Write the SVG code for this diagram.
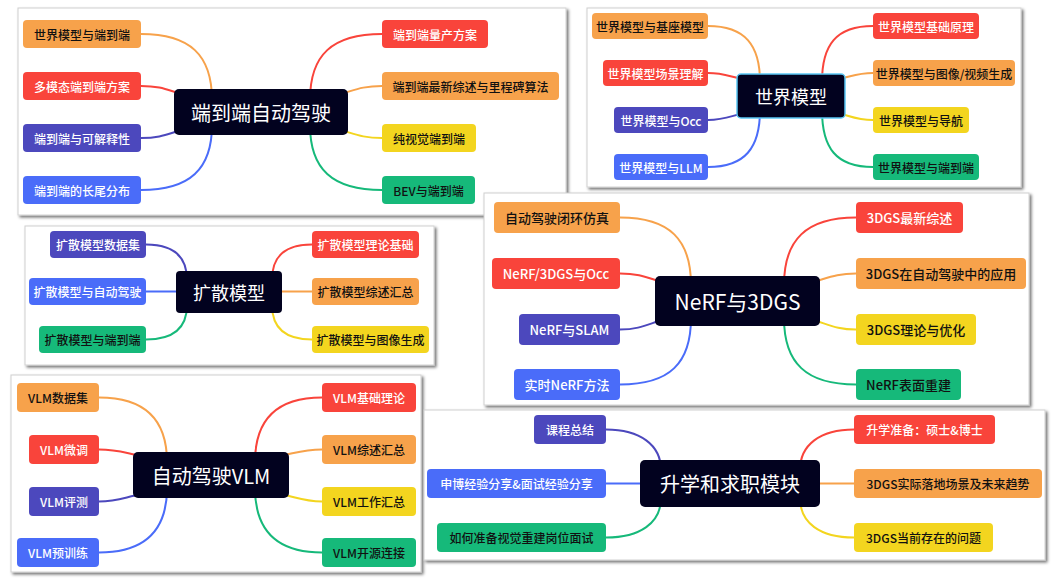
<svg xmlns="http://www.w3.org/2000/svg" width="1058" height="581" viewBox="0 0 1058 581">
<defs>
<filter id="sh" x="-5%" y="-5%" width="110%" height="115%">
<feDropShadow dx="2" dy="2" stdDeviation="1.6" flood-color="#000" flood-opacity="0.55"/>
</filter>
</defs>
<style>
text{font-family:"Noto Sans CJK SC","Noto Sans",sans-serif;text-anchor:middle;dominant-baseline:central;font-size:12px;font-weight:500}
.panel{fill:#fff;stroke:#d0d0d0;stroke-width:1;filter:url(#sh)}
.ctr{fill:#02021f}
.ct{fill:#fff;font-size:20px;font-weight:400}
.o{fill:#F7A24B}.r{fill:#F9443B}.i{fill:#4C48BD}.b{fill:#4A6CF9}.y{fill:#F3D51F}.g{fill:#16B97A}
.tw{fill:#fff}.tk{fill:#111}
.c{fill:none;stroke-width:2}
.co{stroke:#F7A24B}.cr{stroke:#F9443B}.ci{stroke:#4C48BD}.cb{stroke:#4A6CF9}.cy{stroke:#F3D51F}.cg{stroke:#16B97A}
.p4 text{font-size:13px}
</style>

<!-- Panel 1 -->
<g id="panel1">
<rect class="panel" x="18" y="8" width="548" height="207"/>
<g id="connectors1">
<path class="c co" d="M141,34 C190,34 212,55 212,100"/>
<path class="c cr" d="M141,86 C165,86 170,92 190,96"/>
<path class="c ci" d="M141,138 C165,138 170,132 190,128"/>
<path class="c cb" d="M141,190 C190,190 212,169 212,125"/>
<path class="c cr" d="M382,34 C332,34 310,55 310,100"/>
<path class="c co" d="M382,86 C358,86 352,92 332,96"/>
<path class="c cy" d="M382,138 C358,138 352,132 332,128"/>
<path class="c cg" d="M382,190 C332,190 310,169 310,125"/>
</g>
<g id="n1-center"><rect class="ctr" x="174" y="89" width="174" height="46" rx="5"/><text class="ct" x="261" y="112">端到端自动驾驶</text></g>
<g id="n1-l1"><rect class="o" x="23" y="20" width="118" height="28" rx="4"/><text class="tk" x="82" y="34">世界模型与端到端</text></g>
<g id="n1-l2"><rect class="r" x="23" y="72" width="118" height="28" rx="4"/><text class="tw" x="82" y="86">多模态端到端方案</text></g>
<g id="n1-l3"><rect class="i" x="23" y="124" width="118" height="28" rx="4"/><text class="tw" x="82" y="138">端到端与可解释性</text></g>
<g id="n1-l4"><rect class="b" x="23" y="176" width="118" height="28" rx="4"/><text class="tw" x="82" y="190">端到端的长尾分布</text></g>
<g id="n1-r1"><rect class="r" x="382" y="20" width="106" height="28" rx="4"/><text class="tw" x="435" y="34">端到端量产方案</text></g>
<g id="n1-r2"><rect class="o" x="382" y="72" width="177" height="28" rx="4"/><text class="tk" x="470.5" y="86">端到端最新综述与里程碑算法</text></g>
<g id="n1-r3"><rect class="y" x="382" y="124" width="94" height="28" rx="4"/><text class="tk" x="429" y="138">纯视觉端到端</text></g>
<g id="n1-r4"><rect class="g" x="382" y="176" width="93" height="28" rx="4"/><text class="tk" x="428.5" y="190">BEV与端到端</text></g>
</g>

<!-- Panel 2 -->
<g id="panel2">
<rect class="panel" x="587" y="8" width="434" height="179"/>
<g id="connectors2">
<path class="c co" d="M708,26 C745,26 760,45 760,82"/>
<path class="c cr" d="M708,73 C725,73 730,77 748,80"/>
<path class="c ci" d="M708,120 C725,120 730,116 748,112"/>
<path class="c cb" d="M708,167 C745,167 760,148 760,110"/>
<path class="c cr" d="M873,26 C836,26 822,45 822,82"/>
<path class="c co" d="M873,73 C856,73 851,77 834,80"/>
<path class="c cy" d="M873,120 C856,120 851,116 834,112"/>
<path class="c cg" d="M873,167 C836,167 822,148 822,110"/>
</g>
<g id="n2-center"><rect class="ctr" x="737" y="74" width="108" height="44" rx="4" stroke="#5BC8F5" stroke-width="1.5"/><text class="ct" x="791" y="96" style="font-size:18px">世界模型</text></g>
<g id="n2-l1"><rect class="o" x="592" y="13" width="116" height="26" rx="4"/><text class="tk" x="650" y="26">世界模型与基座模型</text></g>
<g id="n2-l2"><rect class="r" x="603" y="60" width="105" height="26" rx="4"/><text class="tw" x="655.5" y="73">世界模型场景理解</text></g>
<g id="n2-l3"><rect class="i" x="614" y="107" width="94" height="26" rx="4"/><text class="tw" x="661" y="120">世界模型与Occ</text></g>
<g id="n2-l4"><rect class="b" x="614" y="154" width="94" height="26" rx="4"/><text class="tw" x="661" y="167">世界模型与LLM</text></g>
<g id="n2-r1"><rect class="r" x="873" y="13" width="106" height="26" rx="4"/><text class="tw" x="926" y="26">世界模型基础原理</text></g>
<g id="n2-r2"><rect class="o" x="873" y="60" width="142" height="26" rx="4"/><text class="tk" x="944" y="73">世界模型与图像/视频生成</text></g>
<g id="n2-r3"><rect class="y" x="873" y="107" width="96" height="26" rx="4"/><text class="tk" x="921" y="120">世界模型与导航</text></g>
<g id="n2-r4"><rect class="g" x="873" y="154" width="106" height="26" rx="4"/><text class="tk" x="926" y="167">世界模型与端到端</text></g>
</g>

<!-- Panel 3 -->
<g id="panel3">
<rect class="panel" x="25" y="226" width="409" height="139"/>
<g id="connectors3">
<path class="c ci" d="M146,244.5 C172,244.5 187,255 187,280"/>
<path class="c cb" d="M146,291.5 L180,291.5"/>
<path class="c cg" d="M146,339.5 C172,339.5 187,329 187,305"/>
<path class="c cr" d="M312,244.5 C286,244.5 272,255 272,280"/>
<path class="c co" d="M312,291.5 L278,291.5"/>
<path class="c cy" d="M312,339.5 C286,339.5 272,329 272,305"/>
</g>
<g id="n3-center"><rect class="ctr" x="176" y="271" width="106" height="42" rx="4"/><text class="ct" x="229" y="292" style="font-size:18px">扩散模型</text></g>
<g id="n3-l1"><rect class="i" x="50" y="231" width="96" height="27" rx="4"/><text class="tw" x="98" y="244.5">扩散模型数据集</text></g>
<g id="n3-l2"><rect class="b" x="29" y="278" width="117" height="27" rx="4"/><text class="tw" x="87.5" y="291.5">扩散模型与自动驾驶</text></g>
<g id="n3-l3"><rect class="g" x="39" y="326" width="107" height="27" rx="4"/><text class="tk" x="92.5" y="339.5">扩散模型与端到端</text></g>
<g id="n3-r1"><rect class="r" x="312" y="231" width="107" height="27" rx="4"/><text class="tw" x="365.5" y="244.5">扩散模型理论基础</text></g>
<g id="n3-r2"><rect class="o" x="312" y="278" width="107" height="27" rx="4"/><text class="tk" x="365.5" y="291.5">扩散模型综述汇总</text></g>
<g id="n3-r3"><rect class="y" x="312" y="326" width="117" height="27" rx="4"/><text class="tk" x="370.5" y="339.5">扩散模型与图像生成</text></g>
</g>

<!-- Panel 4 -->
<g id="panel4" class="p4">
<rect class="panel" x="484" y="193" width="545" height="212"/>
<g id="connectors4">
<path class="c co" d="M620,217.5 C670,217.5 691,240 691,285"/>
<path class="c cr" d="M620,273.5 C640,273.5 648,278 665,283"/>
<path class="c ci" d="M620,329.5 C640,329.5 648,324 665,319"/>
<path class="c cb" d="M620,384.5 C670,384.5 691,363 691,318"/>
<path class="c cr" d="M856,217.5 C806,217.5 784,240 784,285"/>
<path class="c co" d="M856,273.5 C836,273.5 828,278 810,283"/>
<path class="c cy" d="M856,329.5 C836,329.5 828,324 810,319"/>
<path class="c cg" d="M856,384.5 C806,384.5 784,363 784,318"/>
</g>
<g id="n4-center"><rect class="ctr" x="655" y="276" width="165" height="50" rx="5"/><text class="ct" x="737.5" y="301" style="font-size:21px">NeRF与3DGS</text></g>
<g id="n4-l1"><rect class="o" x="494" y="202" width="126" height="31" rx="4"/><text class="tk" x="557" y="217.5">自动驾驶闭环仿真</text></g>
<g id="n4-l2"><rect class="r" x="492" y="258" width="128" height="31" rx="4"/><text class="tw" x="556" y="273.5">NeRF/3DGS与Occ</text></g>
<g id="n4-l3"><rect class="i" x="519" y="314" width="101" height="31" rx="4"/><text class="tw" x="569.5" y="329.5">NeRF与SLAM</text></g>
<g id="n4-l4"><rect class="b" x="514" y="369" width="106" height="31" rx="4"/><text class="tw" x="567" y="384.5">实时NeRF方法</text></g>
<g id="n4-r1"><rect class="r" x="856" y="202" width="107" height="31" rx="4"/><text class="tw" x="909.5" y="217.5">3DGS最新综述</text></g>
<g id="n4-r2"><rect class="o" x="856" y="258" width="170" height="31" rx="4"/><text class="tk" x="941" y="273.5">3DGS在自动驾驶中的应用</text></g>
<g id="n4-r3"><rect class="y" x="856" y="314" width="120" height="31" rx="4"/><text class="tk" x="916" y="329.5">3DGS理论与优化</text></g>
<g id="n4-r4"><rect class="g" x="856" y="369" width="105" height="31" rx="4"/><text class="tk" x="908.5" y="384.5">NeRF表面重建</text></g>
</g>

<!-- Panel 5 -->
<g id="panel5">
<rect class="panel" x="11" y="375" width="410" height="197"/>
<g id="connectors5">
<path class="c co" d="M99,397.5 C145,397.5 167,420 167,462"/>
<path class="c cr" d="M99,449.5 C118,449.5 125,453 142,456"/>
<path class="c ci" d="M99,501.5 C118,501.5 125,497 142,494"/>
<path class="c cb" d="M99,552.5 C145,552.5 167,530 167,488"/>
<path class="c cr" d="M322,397.5 C277,397.5 255,420 255,462"/>
<path class="c co" d="M322,449.5 C303,449.5 296,453 280,456"/>
<path class="c cy" d="M322,501.5 C303,501.5 296,497 280,494"/>
<path class="c cg" d="M322,552.5 C277,552.5 255,530 255,488"/>
</g>
<g id="n5-center"><rect class="ctr" x="133" y="452" width="156" height="46" rx="5"/><text class="ct" x="211" y="475">自动驾驶VLM</text></g>
<g id="n5-l1"><rect class="o" x="17" y="383" width="82" height="29" rx="4"/><text class="tk" x="58" y="397.5">VLM数据集</text></g>
<g id="n5-l2"><rect class="r" x="29" y="435" width="70" height="29" rx="4"/><text class="tw" x="64" y="449.5">VLM微调</text></g>
<g id="n5-l3"><rect class="i" x="29" y="487" width="70" height="29" rx="4"/><text class="tw" x="64" y="501.5">VLM评测</text></g>
<g id="n5-l4"><rect class="b" x="17" y="538" width="82" height="29" rx="4"/><text class="tw" x="58" y="552.5">VLM预训练</text></g>
<g id="n5-r1"><rect class="r" x="322" y="383" width="94" height="29" rx="4"/><text class="tw" x="369" y="397.5">VLM基础理论</text></g>
<g id="n5-r2"><rect class="o" x="322" y="435" width="94" height="29" rx="4"/><text class="tk" x="369" y="449.5">VLM综述汇总</text></g>
<g id="n5-r3"><rect class="y" x="322" y="487" width="94" height="29" rx="4"/><text class="tk" x="369" y="501.5">VLM工作汇总</text></g>
<g id="n5-r4"><rect class="g" x="322" y="538" width="94" height="29" rx="4"/><text class="tk" x="369" y="552.5">VLM开源连接</text></g>
</g>

<!-- Panel 6 -->
<g id="panel6">
<rect class="panel" x="424" y="410" width="621" height="150"/>
<g id="connectors6">
<path class="c ci" d="M606,429.5 C640,429.5 661,445 661,470"/>
<path class="c cb" d="M606,483.5 L645,483.5"/>
<path class="c cg" d="M606,537.5 C640,537.5 661,523 661,498"/>
<path class="c cr" d="M854,429.5 C820,429.5 800,445 800,470"/>
<path class="c co" d="M854,483.5 L815,483.5"/>
<path class="c cy" d="M854,537.5 C820,537.5 800,523 800,498"/>
</g>
<g id="n6-center"><rect class="ctr" x="640" y="460" width="180" height="47" rx="5"/><text class="ct" x="730" y="483.5">升学和求职模块</text></g>
<g id="n6-l1"><rect class="i" x="534" y="415" width="72" height="29" rx="4"/><text class="tw" x="570" y="429.5">课程总结</text></g>
<g id="n6-l2"><rect class="b" x="427" y="469" width="179" height="29" rx="4"/><text class="tw" x="516.5" y="483.5">申博经验分享&amp;面试经验分享</text></g>
<g id="n6-l3"><rect class="g" x="437" y="523" width="169" height="29" rx="4"/><text class="tk" x="521.5" y="537.5">如何准备视觉重建岗位面试</text></g>
<g id="n6-r1"><rect class="r" x="854" y="415" width="141" height="29" rx="4"/><text class="tw" x="924.5" y="429.5">升学准备：硕士&amp;博士</text></g>
<g id="n6-r2"><rect class="o" x="854" y="469" width="188" height="29" rx="4"/><text class="tk" x="948" y="483.5">3DGS实际落地场景及未来趋势</text></g>
<g id="n6-r3"><rect class="y" x="854" y="523" width="139" height="29" rx="4"/><text class="tk" x="923.5" y="537.5">3DGS当前存在的问题</text></g>
</g>
</svg>
